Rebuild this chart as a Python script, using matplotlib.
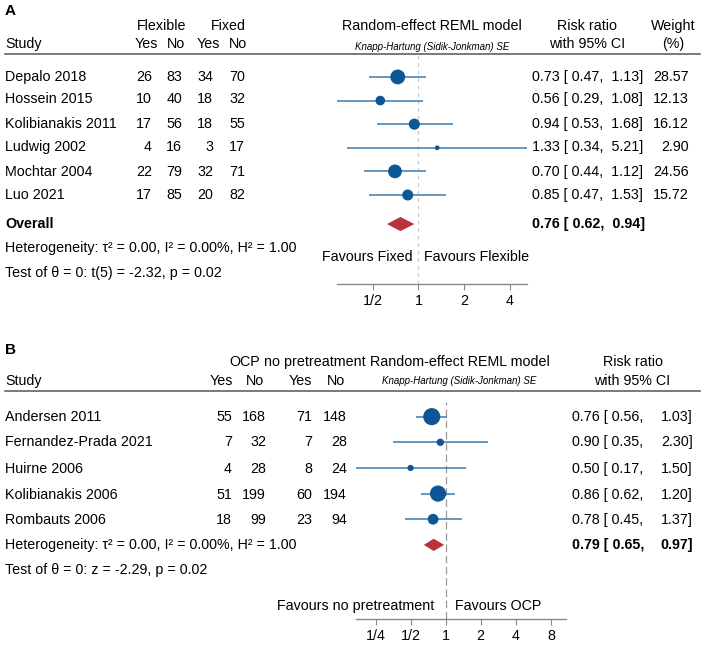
import numpy as np
import matplotlib.pyplot as plt

plt.rcParams['font.family'] = ['Liberation Sans', 'DejaVu Sans']

W, H = 704, 645

# ---------- panel A data ----------
studies_a = ["Depalo 2018", "Hossein 2015", "Kolibianakis 2011", "Ludwig 2002",
             "Mochtar 2004", "Luo 2021"]
flex_yes = [26, 10, 17, 4, 22, 17]
flex_no = [83, 40, 56, 16, 79, 85]
fixed_yes = [34, 18, 18, 3, 32, 20]
fixed_no = [70, 32, 55, 17, 71, 82]
rr_a = [0.73, 0.56, 0.94, 1.33, 0.70, 0.85]
lo_a = [0.47, 0.29, 0.53, 0.34, 0.44, 0.47]
hi_a = [1.13, 1.08, 1.68, 5.21, 1.12, 1.53]
weight_a = [28.57, 12.13, 16.12, 2.90, 24.56, 15.72]
overall_a = [0.76, 0.62, 0.94]
ticks_a = [0.5, 1, 2, 4]
ticklabels_a = ["1/2", "1", "2", "4"]

# ---------- panel B data ----------
studies_b = ["Andersen 2011", "Fernandez-Prada 2021", "Huirne 2006",
             "Kolibianakis 2006", "Rombauts 2006"]
ocp_yes = [55, 7, 4, 51, 18]
ocp_no = [168, 32, 28, 199, 99]
nop_yes = [71, 7, 8, 60, 23]
nop_no = [148, 28, 24, 194, 94]
rr_b = [0.76, 0.90, 0.50, 0.86, 0.78]
lo_b = [0.56, 0.35, 0.17, 0.62, 0.45]
hi_b = [1.03, 2.30, 1.50, 1.20, 1.37]
# no weight column in B: relative weights
weight_b = [38, 7, 5, 34, 15]
overall_b = [0.79, 0.65, 0.97]
ticks_b = [0.25, 0.5, 1, 2, 4, 8]
ticklabels_b = ["1/4", "1/2", "1", "2", "4", "8"]

MARK = "#0e5796"
LINE = "#3b7bb2"
DIAM = "#b8323f"
FS = 10.3

fig = plt.figure(figsize=(W / 100, H / 100), dpi=100)


def txt(x, y, s, ha="left", size=FS, **kw):
    fig.text(x / W, 1 - y / H, s, ha=ha, va="center", fontsize=size, **kw)


def hline(y):
    fig.add_artist(plt.Line2D([5 / W, 700 / W], [1 - y / H] * 2, color="#555555", lw=1.1))


def forest(left, right, top, bottom, xlim, ylim, ticks, labels):
    ax = fig.add_axes([left / W, 1 - bottom / H, (right - left) / W, (bottom - top) / H])
    ax.set_xscale("log", base=2)
    ax.set_xlim(*xlim)
    ax.set_ylim(*ylim)
    for s in ["top", "left", "right"]:
        ax.spines[s].set_visible(False)
    ax.spines["bottom"].set_color("#888888")
    ax.spines["bottom"].set_linewidth(1.0)
    ax.set_yticks([])
    ax.set_xticks(ticks)
    ax.set_xticklabels(labels)
    ax.minorticks_off()
    ax.tick_params(axis="x", direction="out", length=4, color="#888888", labelsize=FS, pad=3)
    ax.patch.set_alpha(0)
    return ax


# =================== Panel A ===================
txt(5, 11, "A", size=11, fontweight="bold")
txt(162, 26, "Flexible", ha="center")
txt(228, 26, "Fixed", ha="center")
txt(5, 44, "Study")
for x, s in zip([146, 176, 208, 238], ["Yes", "No", "Yes", "No"]):
    txt(x, 44, s, ha="center")
txt(432, 26, "Random-effect REML model", ha="center")
txt(432, 47, "Knapp-Hartung (Sidik-Jonkman) SE", ha="center", size=7, style="italic")
txt(587, 26, "Risk ratio", ha="center")
txt(587, 44, "with 95% CI", ha="center")
txt(673, 26, "Weight", ha="center")
txt(673, 44, "(%)", ha="center")
hline(54)

row_y_a = [77, 99, 124, 147, 172, 195]
for i, y in enumerate(row_y_a):
    txt(5, y, studies_a[i])
    for x, v in zip([152, 182, 213, 245], [flex_yes[i], flex_no[i], fixed_yes[i], fixed_no[i]]):
        txt(x, y, str(v), ha="right")
    txt(532, y, f"{rr_a[i]:.2f} [ {lo_a[i]:.2f},  {hi_a[i]:.2f}]")
    txt(689, y, f"{weight_a[i]:.2f}", ha="right")
txt(5, 224, "Overall", fontweight="bold")
txt(532, 224, f"{overall_a[0]:.2f} [ {overall_a[1]:.2f},  {overall_a[2]:.2f}]", fontweight="bold")
txt(5, 248, "Heterogeneity: τ² = 0.00, I² = 0.00%, H² = 1.00")
txt(5, 273, "Test of θ = 0: t(5) = -2.32, p = 0.02")
txt(413, 257, "Favours Fixed", ha="right")
txt(424, 257, "Favours Flexible")

axa = forest(337, 527, 55, 284, (0.29, 5.21), (8.77, -0.93), ticks_a, ticklabels_a)
rows_a = np.arange(len(studies_a))
axa.axvline(1, color="#c8c8c8", lw=0.9, ls=(0, (3, 3)), zorder=1)
axa.hlines(rows_a, lo_a, hi_a, color=LINE, lw=1.1, zorder=2)
axa.scatter(rr_a, rows_a, s=np.array(weight_a) * 4.0, color=MARK, zorder=3, linewidths=0)
r = 6.23
axa.fill([overall_a[1], overall_a[0], overall_a[2], overall_a[0]],
         [r, r - 0.3, r, r + 0.3], color=DIAM, lw=0, zorder=3)

# =================== Panel B ===================
txt(5, 350, "B", size=11, fontweight="bold")
txt(245, 362, "OCP", ha="center")
txt(315, 362, "no pretreatment", ha="center")
txt(5, 381, "Study")
for x, s in zip([221, 255, 300, 336], ["Yes", "No", "Yes", "No"]):
    txt(x, 381, s, ha="center")
txt(460, 362, "Random-effect REML model", ha="center")
txt(459, 381, "Knapp-Hartung (Sidik-Jonkman) SE", ha="center", size=7, style="italic")
txt(633, 362, "Risk ratio", ha="center")
txt(632, 381, "with 95% CI", ha="center")
hline(391)

row_y_b = [417, 442, 469, 495, 520]
for i, y in enumerate(row_y_b):
    txt(5, y, studies_b[i])
    for x, v in zip([232, 266, 312, 347], [ocp_yes[i], ocp_no[i], nop_yes[i], nop_no[i]]):
        txt(x, y, str(v), ha="right")
    txt(572, y, f"{rr_b[i]:.2f} [ {lo_b[i]:.2f},")
    txt(693, y, f"{hi_b[i]:.2f}]", ha="right")
txt(572, 545, f"{overall_b[0]:.2f} [ {overall_b[1]:.2f},", fontweight="bold")
txt(693, 545, f"{overall_b[2]:.2f}]", ha="right", fontweight="bold")
txt(5, 545, "Heterogeneity: τ² = 0.00, I² = 0.00%, H² = 1.00")
txt(5, 570, "Test of θ = 0: z = -2.29, p = 0.02")
txt(434, 606, "Favours no pretreatment", ha="right")
txt(455, 606, "Favours OCP")

axb = forest(356, 566, 391, 619, (0.17, 10.8), (7.89, -1.0), ticks_b, ticklabels_b)
rows_b = np.arange(len(studies_b))
axb.axvline(1, ymax=0.95, color="#999999", lw=0.9, ls=(0, (6, 3)), zorder=1)
axb.hlines(rows_b, lo_b, hi_b, color=LINE, lw=1.1, zorder=2)
axb.scatter(rr_b, rows_b, s=np.array(weight_b) * 4.0, color=MARK, zorder=3, linewidths=0)
r = 5
axb.fill([overall_b[1], overall_b[0], overall_b[2], overall_b[0]],
         [r, r - 0.24, r, r + 0.24], color=DIAM, lw=0, zorder=3)

fig.savefig("out.png", dpi=100)
